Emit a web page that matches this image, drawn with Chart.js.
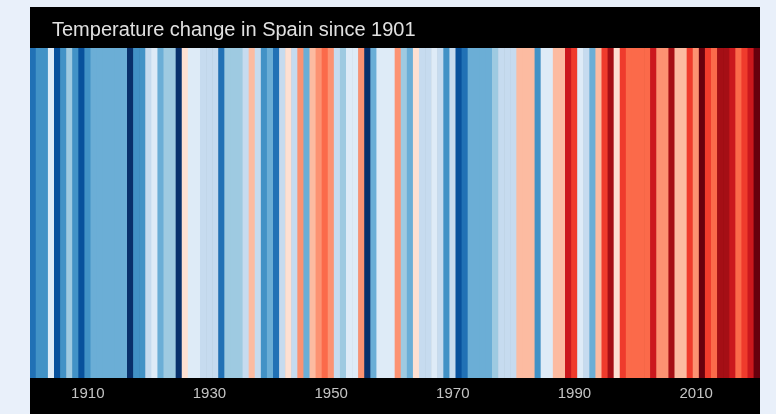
<!DOCTYPE html>
<html>
<head>
<meta charset="utf-8">
<script src="https://cdn.jsdelivr.net/npm/chart.js@4"></script>
<style>
  html, body { margin: 0; padding: 0; }
  body { width: 776px; height: 414px; background: #e9f0fa; position: relative; overflow: hidden; }
  #panel { position: absolute; left: 30px; top: 7px; width: 730px; height: 407px; background: #000; }
  #title { position: absolute; left: 22px; top: 11px; color: #e0e0e0; font: 20px "Liberation Sans", Arial, sans-serif; white-space: nowrap; }
  #wrap { position: absolute; left: 0; top: 0; width: 730px; height: 407px; }
</style>
</head>
<body>
<div id="panel">
  <div id="wrap"><canvas id="c"></canvas></div>
  <div id="title">Temperature change in Spain since 1901</div>
</div>
<script>
// Categories: years 1901–2020
const firstYear = 1901;
const lastYear = 2020;
const years = [];
for (let y = firstYear; y <= lastYear; y++) years.push(String(y));

const anomalies = [
  -1.12, -0.88, -0.93, -0.08, -1.34, -0.91, -0.52, -0.86, -1.29, -0.94,
  -0.71, -0.68, -0.74, -0.66, -0.72, -0.69, -1.53, -0.92, -0.87, -0.33,
  -0.12, -0.73, -0.48, -0.55, -1.56,  0.08, -0.14, -0.06, -0.31, -0.27,
  -0.34, -1.08, -0.46, -0.52, -0.49, -0.29,  0.28, -0.35, -0.89, -0.67,
  -1.15, -0.26,  0.12, -0.28,  0.52, -0.71,  0.27,  0.47,  0.68,  0.54,
  -0.32, -0.47, -0.11, -0.07,  0.49, -1.58, -0.73, -0.09, -0.13, -0.04,
   0.46, -0.53, -0.71,  0.06, -0.28, -0.33, -0.12, -0.26, -0.91, -0.30,
  -1.27, -1.06, -0.68, -0.72, -0.66, -0.70, -0.45, -0.27, -0.32, -0.29,
   0.33,  0.27,  0.36, -0.87, -0.14, -0.05,  0.29,  0.34,  1.12,  0.93,
  -0.09, -0.31, -0.69,  0.32,  0.87,  1.27,  0.14,  0.91,  0.72,  0.68,
   0.74,  0.69,  1.08,  0.54,  0.51,  1.33,  0.28,  0.31,  0.88,  0.46,
   1.56,  0.92,  0.71,  1.34,  1.36,  1.14,  0.74,  0.86,  1.12,  1.52
];

// Tick labels shown on the x axis
const tickLabels = ['1910', '1930', '1950', '1970', '1990', '2010'];

// Colour scale (ColorBrewer Blues / Reds, as used for warming stripes)
const palette = [
  '#08306b', '#08519c', '#2171b5', '#4292c6', '#6baed6', '#9ecae1', '#c6dbef', '#deebf7',
  '#fee0d2', '#fcbba1', '#fc9272', '#fb6a4a', '#ef3b2c', '#cb181d', '#a50f15', '#67000d'
];
const scaleMin = -1.6, scaleStep = 0.2;
function colourFor(v) {
  let k = Math.floor((v - scaleMin) / scaleStep + 1e-9);
  k = Math.max(0, Math.min(palette.length - 1, k));
  return palette[k];
}

new Chart(document.getElementById('c'), {
  type: 'bar',
  data: {
    labels: years,
    datasets: [{
      label: 'Temperature anomaly',
      // every stripe spans the full height; the anomaly drives its colour
      data: anomalies.map(() => 1),
      backgroundColor: anomalies.map(colourFor),
      borderWidth: 0,
      barPercentage: 1,
      categoryPercentage: 1
    }]
  },
  options: {
    responsive: true,
    maintainAspectRatio: false,
    animation: false,
    layout: { padding: { top: 41, left: 0, right: 0, bottom: 0 } },
    plugins: { legend: { display: false }, tooltip: { enabled: false }, title: { display: false } },
    scales: {
      x: {
        grid: { display: false, drawTicks: false },
        border: { display: false },
        ticks: {
          autoSkip: false,
          maxRotation: 0,
          minRotation: 0,
          padding: 7,
          color: '#c4c4c4',
          font: { family: '"Liberation Sans", Arial, sans-serif', size: 15 },
          callback: function (value, index) {
            const lab = this.getLabelForValue(value);
            return tickLabels.includes(lab) ? lab : null;
          }
        },
        afterFit: function (scale) { scale.height = 36; }
      },
      y: { display: false, min: 0, max: 1 }
    }
  }
});
</script>
</body>
</html>
